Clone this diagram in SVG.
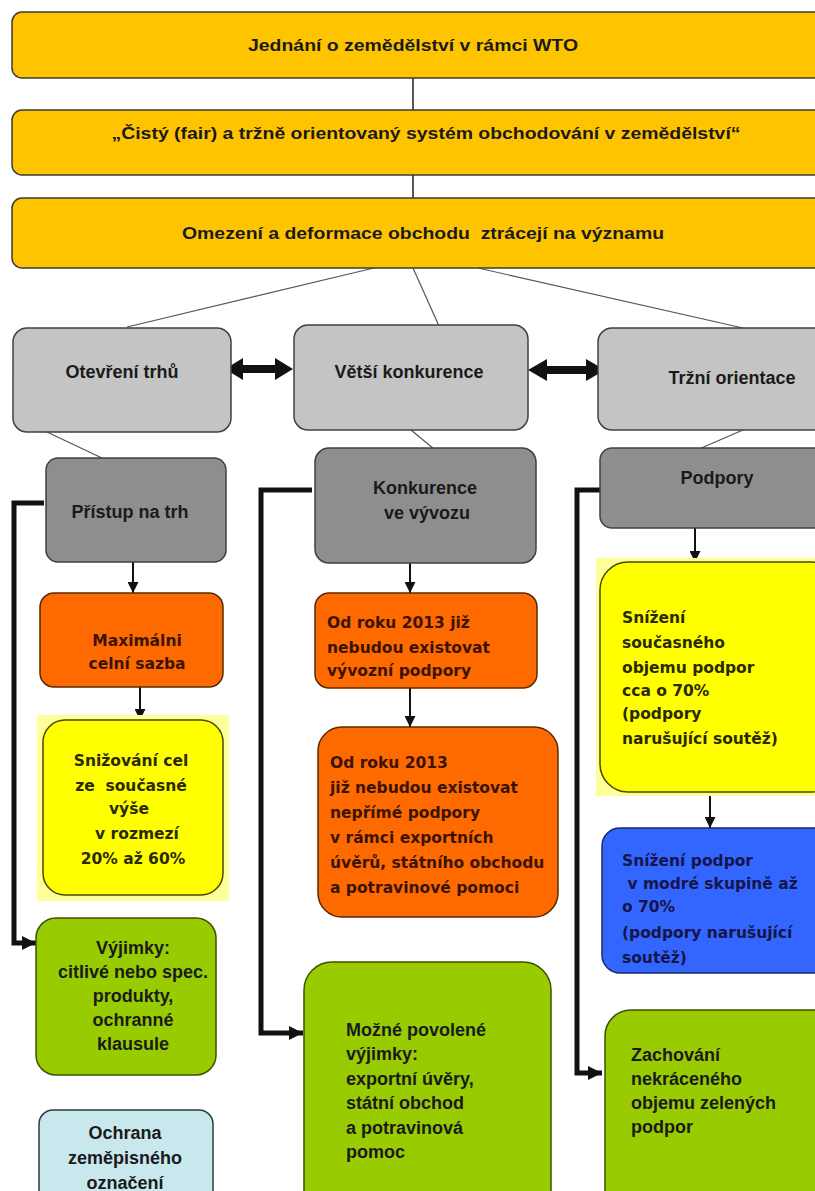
<svg xmlns="http://www.w3.org/2000/svg" width="815" height="1191" viewBox="0 0 815 1191">
<defs>
<marker id="ah" viewBox="0 0 10 10" refX="10" refY="5" markerWidth="11" markerHeight="11" markerUnits="userSpaceOnUse" orient="auto"><path d="M0,0 L10,5 L0,10 z" fill="#111"/></marker>
<marker id="ahb" viewBox="0 0 10 10" refX="10" refY="5" markerWidth="14" markerHeight="14" markerUnits="userSpaceOnUse" orient="auto"><path d="M0,0 L10,5 L0,10 z" fill="#111"/></marker>
</defs>
<style>
.gold{fill:#FFC400;stroke:#3a3a3a;stroke-width:1.5}
.lg{fill:#C4C4C4;stroke:#404040;stroke-width:1.5}
.dg{fill:#8E8E8E;stroke:#404040;stroke-width:1.5}
.or{fill:#FF6A00;stroke:#5a2a00;stroke-width:1.5}
.ye{fill:#FFFF00;stroke:#4a4a00;stroke-width:1.5}
.glow{fill:#FFFF9A}
.bl{fill:#3366FF;stroke:#1a2a66;stroke-width:1.5}
.gr{fill:#99CC00;stroke:#3d5200;stroke-width:1.5}
.cy{fill:#C8E8EE;stroke:#2a3a44;stroke-width:1.5}
.ta{font-family:"Liberation Sans",Arial,sans-serif;font-weight:bold;fill:#1a1a1a}
.tv{font-family:"DejaVu Sans",Verdana,sans-serif;font-weight:bold;font-size:15.5px}
.c{text-anchor:middle}
.pre{white-space:pre}
.thin{stroke:#555;stroke-width:1.2;fill:none}
.arr{stroke:#111;stroke-width:2;fill:none;marker-end:url(#ah)}
.thick{stroke:#111;stroke-width:5;fill:none;marker-end:url(#ahb)}
</style>
<rect width="815" height="1191" fill="#fff"/>

<g id="connectors">
<line x1="413" y1="78" x2="413" y2="110" stroke="#222" stroke-width="1.5"/>
<line x1="413" y1="175" x2="413" y2="206" stroke="#222" stroke-width="1.5"/>
<line class="thin" x1="374" y1="268" x2="127" y2="327"/>
<line class="thin" x1="413" y1="268" x2="439" y2="326"/>
<line class="thin" x1="478" y1="268" x2="743" y2="328"/>
<line class="thin" x1="47" y1="432" x2="104" y2="459"/>
<line class="thin" x1="411" y1="430" x2="434" y2="449"/>
<line class="thin" x1="743" y1="430" x2="699" y2="449"/>
<polygon points="225,369 243,358 243,365 275,365 275,358 293,369 275,380 275,373 243,373 243,380" fill="#111"/>
<polygon points="528,370 547,359 547,366 586,366 586,359 605,370 586,381 586,374 547,374 547,381" fill="#111"/>
<line class="arr" x1="133" y1="562" x2="133" y2="593"/>
<line class="arr" x1="140" y1="687" x2="140" y2="720"/>
<line class="arr" x1="410" y1="563" x2="410" y2="593"/>
<line class="arr" x1="410" y1="688" x2="410" y2="727"/>
<line class="arr" x1="695" y1="528" x2="695" y2="562"/>
<line class="arr" x1="710" y1="792" x2="710" y2="828"/>
<path class="thick" d="M44,503 H14 V943 H36"/>
<path class="thick" d="M312,490 H261 V1033 H303"/>
<path class="thick" d="M602,490 H577 V1073 H602"/>
</g>

<g id="n1"><rect class="gold" x="12" y="12" width="830" height="66" rx="10"/>
<text class="ta c" x="413" y="51" font-size="17" textLength="330" lengthAdjust="spacingAndGlyphs">Jednání o zemědělství v rámci WTO</text></g>
<g id="n2"><rect class="gold" x="12" y="110" width="830" height="65" rx="10"/>
<text class="ta c" x="426" y="139" font-size="17" textLength="629" lengthAdjust="spacingAndGlyphs">„Čistý (fair) a tržně orientovaný systém obchodování v zemědělství“</text></g>
<g id="n3"><rect class="gold" x="12" y="198" width="830" height="70" rx="10"/>
<text class="ta c pre" x="423" y="239" font-size="17" textLength="482" lengthAdjust="spacingAndGlyphs">Omezení a deformace obchodu  ztrácejí na významu</text></g>

<g id="n4"><rect class="lg" x="13" y="328" width="218" height="104" rx="14"/>
<text class="ta c" x="122" y="378" font-size="18">Otevření trhů</text></g>
<g id="n5"><rect class="lg" x="294" y="325" width="234" height="105" rx="14"/>
<text class="ta c" x="409" y="378" font-size="18">Větší konkurence</text></g>
<g id="n6"><rect class="lg" x="598" y="328" width="232" height="102" rx="14"/>
<text class="ta c" x="732" y="384" font-size="18">Tržní orientace</text></g>

<g id="n7"><rect class="dg" x="46" y="458" width="180" height="104" rx="12"/>
<text class="ta c" x="130" y="518" font-size="18">Přístup na trh</text></g>
<g id="n8"><rect class="dg" x="315" y="448" width="221" height="115" rx="14"/>
<text class="ta c" x="425" y="494" font-size="18">Konkurence</text>
<text class="ta c" x="427" y="519" font-size="18">ve vývozu</text></g>
<g id="n9"><rect class="dg" x="600" y="448" width="230" height="80" rx="12"/>
<text class="ta c" x="717" y="484" font-size="18">Podpory</text></g>

<g id="n10"><rect class="or" x="40" y="593" width="183" height="94" rx="14"/>
<text class="tv c" x="137" y="646" fill="#3a1400">Maximálni</text>
<text class="tv c" x="137" y="669" fill="#3a1400">celní sazba</text></g>

<g id="n11"><rect class="glow" x="37" y="715" width="192" height="186"/>
<rect class="ye" x="43" y="720" width="180" height="175" rx="22"/>
<text class="tv c" x="131" y="766" fill="#2a2a00">Snižování cel</text>
<text class="tv c pre" x="131" y="791" fill="#2a2a00">ze  současné</text>
<text class="tv c" x="129" y="814" fill="#2a2a00">výše</text>
<text class="tv c" x="137" y="839" fill="#2a2a00">v rozmezí</text>
<text class="tv c" x="133" y="864" fill="#2a2a00">20% až 60%</text></g>

<g id="n12"><rect class="gr" x="36" y="918" width="180" height="157" rx="20"/>
<text class="ta c" x="133" y="954" font-size="18">Výjimky:</text>
<text class="ta c" x="133" y="978" font-size="18">citlivé nebo spec.</text>
<text class="ta c" x="133" y="1002" font-size="18">produkty,</text>
<text class="ta c" x="133" y="1026" font-size="18">ochranné</text>
<text class="ta c" x="133" y="1050" font-size="18">klausule</text></g>

<g id="n13"><rect class="cy" x="39" y="1110" width="174" height="100" rx="14"/>
<text class="ta c" x="125" y="1139" font-size="18">Ochrana</text>
<text class="ta c" x="125" y="1164" font-size="18">zeměpisného</text>
<text class="ta c" x="125" y="1189" font-size="18">označení</text></g>

<g id="n14"><rect class="or" x="315" y="593" width="222" height="95" rx="14"/>
<text class="tv" x="327" y="628" fill="#3a1400">Od roku 2013 již</text>
<text class="tv" x="327" y="653" fill="#3a1400">nebudou existovat</text>
<text class="tv" x="327" y="676" fill="#3a1400">vývozní podpory</text></g>

<g id="n15"><rect class="or" x="318" y="727" width="240" height="190" rx="24"/>
<text class="tv" x="330" y="768" fill="#3a1400">Od roku 2013</text>
<text class="tv" x="330" y="793" fill="#3a1400">již nebudou existovat</text>
<text class="tv" x="330" y="818" fill="#3a1400">nepřímé podpory</text>
<text class="tv" x="330" y="843" fill="#3a1400">v rámci exportních</text>
<text class="tv" x="330" y="868" fill="#3a1400">úvěrů, státního obchodu</text>
<text class="tv" x="330" y="893" fill="#3a1400">a potravinové pomoci</text></g>

<g id="n16"><rect class="gr" x="304" y="962" width="247" height="260" rx="28"/>
<text class="ta" x="346" y="1036" font-size="18">Možné povolené</text>
<text class="ta" x="346" y="1060" font-size="18">výjimky:</text>
<text class="ta" x="346" y="1085" font-size="18">exportní úvěry,</text>
<text class="ta" x="346" y="1109" font-size="18">státní obchod</text>
<text class="ta" x="346" y="1134" font-size="18">a potravinová</text>
<text class="ta" x="346" y="1158" font-size="18">pomoc</text></g>

<g id="n17"><rect class="glow" x="596" y="558" width="240" height="238"/>
<rect class="ye" x="600" y="562" width="240" height="230" rx="28"/>
<text class="tv" x="622" y="623" fill="#2a2a00">Snížení</text>
<text class="tv" x="622" y="648" fill="#2a2a00">současného</text>
<text class="tv" x="622" y="673" fill="#2a2a00">objemu podpor</text>
<text class="tv" x="622" y="696" fill="#2a2a00">cca o 70%</text>
<text class="tv" x="622" y="719" fill="#2a2a00">(podpory</text>
<text class="tv" x="622" y="744" fill="#2a2a00">narušující soutěž)</text></g>

<g id="n18"><rect class="bl" x="602" y="828" width="240" height="145" rx="18"/>
<text class="tv" x="622" y="866" fill="#15154a">Snížení podpor</text>
<text class="tv pre" x="622" y="889" fill="#15154a"> v modré skupině až</text>
<text class="tv" x="622" y="912" fill="#15154a">o 70%</text>
<text class="tv" x="622" y="938" fill="#15154a">(podpory narušující</text>
<text class="tv" x="622" y="963" fill="#15154a">soutěž)</text></g>

<g id="n19"><rect class="gr" x="605" y="1010" width="240" height="210" rx="26"/>
<text class="ta" x="631" y="1061" font-size="18">Zachování</text>
<text class="ta" x="631" y="1085" font-size="18">nekráceného</text>
<text class="ta" x="631" y="1109" font-size="18">objemu zelených</text>
<text class="ta" x="631" y="1133" font-size="18">podpor</text></g>
</svg>
